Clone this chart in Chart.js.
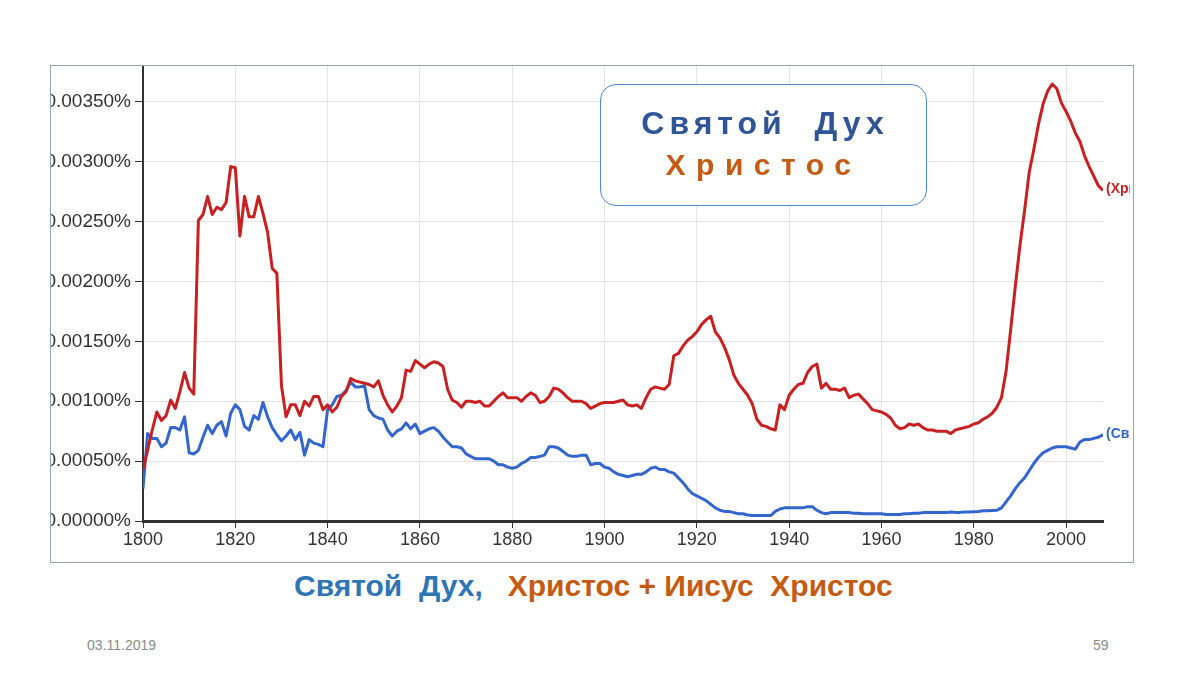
<!DOCTYPE html>
<html>
<head>
<meta charset="utf-8">
<script src="https://cdn.jsdelivr.net/npm/chart.js@4/dist/chart.umd.min.js"></script>
<style>
  html, body { margin: 0; padding: 0; background: #fff; }
  body { width: 1200px; height: 675px; position: relative; overflow: hidden; font-family: "Liberation Sans", Arial, sans-serif; }
  #frame { position: absolute; left: 50px; top: 65px; width: 1084px; height: 498px; box-sizing: border-box; border: 1px solid #9aa3ad; overflow: hidden; background: #fff; }
  #chart { position: absolute; left: -11px; top: 0; }
  #badge { position: absolute; left: 600px; top: 84px; width: 327px; height: 122px; box-sizing: border-box; border: 1.5px solid #4d8ad6; border-radius: 16px; background: #fff; text-align: center; font-weight: bold; white-space: pre; }
  #badge .l1 { position: absolute; left: 0; right: 0; top: 20px; font-size: 32px; letter-spacing: 5px; padding-left: 3px; color: #2f5597; }
  #badge .l2 { position: absolute; left: 0; right: 0; top: 63px; font-size: 30px; letter-spacing: 10.5px; padding-left: 0; color: #c55a11; }
  #caption { position: absolute; left: 294px; top: 569px; font-family: "Liberation Sans Narrow", "Liberation Sans", Arial, sans-serif; font-weight: bold; font-size: 30px; white-space: pre; }
  .foot { position: absolute; top: 637px; font-size: 14px; color: #8a8a8a; }
</style>
</head>
<body>
<div id="frame"><canvas id="chart" width="1090" height="495"></canvas></div>
<div id="badge"><div class="l1">Святой  Дух</div><div class="l2">Христос</div></div>
<div id="caption"><span style="color:#2e75b6">Святой  Дух,</span>   <span style="color:#c55a11">Христос + Иисус  Христос</span></div>
<div class="foot" style="left:87px">03.11.2019</div>
<div class="foot" style="left:1093px">59</div>

<script>
const firstYear = 1800;
const lastYear = 2008;

const xTicks = [1800, 1820, 1840, 1860, 1880, 1900, 1920, 1940, 1960, 1980, 2000];
const yTicks = [0, 0.0005, 0.001, 0.0015, 0.002, 0.0025, 0.003, 0.0035];

const seriesNames = ['Христос + Иисус Христос', 'Святой Дух'];
const endLabels = ['(Христос + Иисус Христос)', '(Святой Дух)'];

// one value per year, 1800..2008, in percent
const christValues = [
  0.00043, 0.00059, 0.00076, 0.00091, 0.00084, 0.00088, 0.00101, 0.00094, 0.00108, 0.00124,
  0.00111, 0.00106, 0.00251, 0.00256, 0.00271, 0.00256, 0.00262, 0.00260, 0.00266, 0.00296,
  0.00295, 0.00238, 0.00271, 0.00254, 0.00254, 0.00271, 0.00257, 0.00241, 0.00211, 0.00207,
  0.00113, 0.00087, 0.00097, 0.00097, 0.00088, 0.00100, 0.00096, 0.00104, 0.00104, 0.00093,
  0.00097, 0.00091, 0.00095, 0.00104, 0.00108, 0.00119, 0.00117, 0.00116, 0.00115, 0.00114,
  0.00112, 0.00117, 0.00105, 0.00097, 0.00091, 0.00096, 0.00103, 0.00126, 0.00125, 0.00134,
  0.00131, 0.00128, 0.00131, 0.00133, 0.00132, 0.00129, 0.00110, 0.00101, 0.00099, 0.00095,
  0.00100, 0.00100, 0.00099, 0.00100, 0.00096, 0.00096, 0.00100, 0.00104, 0.00107, 0.00103,
  0.00103, 0.00103, 0.00100, 0.00104, 0.00107, 0.00105, 0.00099, 0.00100, 0.00104, 0.00111,
  0.00110, 0.00107, 0.00103, 0.00100, 0.00100, 0.00100, 0.00098, 0.00094, 0.00096, 0.00098,
  0.00099, 0.00099, 0.00099, 0.00100, 0.00101, 0.00097, 0.00096, 0.00097, 0.00094, 0.00103,
  0.00110, 0.00112, 0.00111, 0.00110, 0.00114, 0.00138, 0.00140, 0.00146, 0.00151, 0.00154,
  0.00158, 0.00164, 0.00168, 0.00171, 0.00158, 0.00153, 0.00145, 0.00135, 0.00122, 0.00115,
  0.00110, 0.00105, 0.00098, 0.00085, 0.00080, 0.00079, 0.00077, 0.00076, 0.00097, 0.00093,
  0.00105, 0.00110, 0.00114, 0.00115, 0.00124, 0.00129, 0.00131, 0.00111, 0.00115, 0.00110,
  0.00110, 0.00109, 0.00111, 0.00103, 0.00105, 0.00106, 0.00102, 0.00098, 0.00093, 0.00092,
  0.00091, 0.00089, 0.00086, 0.00080, 0.00077, 0.00078, 0.00081, 0.00080, 0.00081, 0.00078,
  0.00076, 0.00076, 0.00075, 0.00075, 0.00075, 0.00073, 0.00076, 0.00077, 0.00078, 0.00079,
  0.00081, 0.00082, 0.00085, 0.00087, 0.00090, 0.00095, 0.00103, 0.00125, 0.00160, 0.00196,
  0.00230, 0.00259, 0.00291, 0.00310, 0.00331, 0.00348, 0.00359, 0.00365, 0.00361, 0.00349,
  0.00342, 0.00334, 0.00324, 0.00317, 0.00305, 0.00296, 0.00288, 0.00280, 0.00276
];

const spiritValues = [
  0.00027, 0.00073, 0.00069, 0.00069, 0.00062, 0.00065, 0.00078, 0.00078, 0.00076, 0.00087,
  0.00057, 0.00056, 0.00059, 0.00070, 0.00080, 0.00073, 0.00080, 0.00083, 0.00071, 0.00090,
  0.00097, 0.00093, 0.00079, 0.00076, 0.00088, 0.00085, 0.00099, 0.00087, 0.00078, 0.00072,
  0.00067, 0.00071, 0.00076, 0.00068, 0.00074, 0.00055, 0.00068, 0.00065, 0.00064, 0.00062,
  0.00093, 0.00097, 0.00104, 0.00105, 0.00109, 0.00116, 0.00112, 0.00112, 0.00113, 0.00093,
  0.00088, 0.00086, 0.00085, 0.00076, 0.00071, 0.00075, 0.00077, 0.00082, 0.00077, 0.00081,
  0.00073, 0.00075, 0.00077, 0.00078, 0.00075, 0.00070, 0.00066, 0.00062, 0.00062, 0.00061,
  0.00056, 0.00054, 0.00052, 0.00052, 0.00052, 0.00052, 0.00050, 0.00047, 0.00047, 0.00045,
  0.00044, 0.00045, 0.00048, 0.00050, 0.00053, 0.00053, 0.00054, 0.00055, 0.00062, 0.00062,
  0.00061, 0.00058, 0.00055, 0.00054, 0.00054, 0.00055, 0.00055, 0.00047, 0.00048, 0.00048,
  0.00045, 0.00044, 0.00041, 0.00039, 0.00038, 0.00037, 0.00038, 0.00039, 0.00039, 0.00041,
  0.00044, 0.00045, 0.00043, 0.00043, 0.00041, 0.00040, 0.00036, 0.00032, 0.00027, 0.00023,
  0.00021, 0.00019, 0.00017, 0.00014, 0.00011, 0.00009, 0.00008, 0.00008, 0.00007, 0.00006,
  0.00006, 0.00005, 0.000045, 0.000045, 0.000045, 0.000045, 0.000045, 0.00008, 0.00010, 0.00011,
  0.00011, 0.00011, 0.00011, 0.00011, 0.00012, 0.00012, 0.00009, 0.00007, 0.00006, 0.00007,
  0.00007, 0.00007, 0.00007, 0.00007, 0.000065, 0.000065, 0.00006, 0.00006, 0.00006, 0.00006,
  0.00006, 0.000055, 0.000055, 0.000055, 0.000055, 0.00006, 0.00006, 0.000065, 0.000065, 0.00007,
  0.00007, 0.00007, 0.00007, 0.00007, 0.00007, 0.000075, 0.000072, 0.000072, 0.000075, 0.000075,
  0.000078, 0.00008, 0.000085, 0.000085, 0.000088, 0.00009, 0.00011, 0.00016, 0.00021, 0.00027,
  0.00032, 0.00036, 0.00042, 0.00048, 0.00053, 0.00057, 0.00059, 0.00061, 0.00062, 0.00062,
  0.00062, 0.00061, 0.00060, 0.00066, 0.00068, 0.00068, 0.00069, 0.00070, 0.00072
];

const years = [];
for (let y = firstYear; y <= lastYear; y++) years.push(y);

const toPoints = vals => years.map((yr, i) => ({ x: yr, y: vals[i] }));

const fontFamily = '"Liberation Sans", Arial, sans-serif';

// series names written at the right end of each line
const endLabelPlugin = {
  id: 'endLabels',
  afterDatasetsDraw(chart) {
    const ctx = chart.ctx;
    chart.data.datasets.forEach((ds, i) => {
      const pts = chart.getDatasetMeta(i).data;
      const last = pts[pts.length - 1];
      ctx.save();
      ctx.font = 'bold 14px ' + fontFamily;
      ctx.fillStyle = ds.borderColor;
      ctx.textBaseline = 'middle';
      ctx.fillText(endLabels[i], last.x + 3, last.y - 1);
      ctx.restore();
    });
  }
};

const noPad = s => { s.paddingTop = 0; s.paddingBottom = 0; s.paddingLeft = 0; s.paddingRight = 0; };

new Chart(document.getElementById('chart'), {
  type: 'line',
  data: {
    datasets: [
      {
        label: seriesNames[0],
        data: toPoints(christValues),
        borderColor: '#c82020',
        borderWidth: 3
      },
      {
        label: seriesNames[1],
        data: toPoints(spiritValues),
        borderColor: '#3366cc',
        borderWidth: 3
      }
    ]
  },
  options: {
    responsive: false,
    animation: false,
    layout: { padding: { top: 0, right: 27, left: 0, bottom: 0 } },
    elements: {
      point: { radius: 0 },
      line: { tension: 0, borderJoinStyle: 'round' }
    },
    plugins: {
      legend: { display: false },
      tooltip: { enabled: false }
    },
    scales: {
      x: {
        type: 'linear',
        min: firstYear,
        max: lastYear,
        afterBuildTicks: s => { s.ticks = xTicks.map(v => ({ value: v })); },
        afterFit: s => { s.height = 40; noPad(s); },
        ticks: {
          autoSkip: false,
          maxRotation: 0,
          padding: 1,
          color: '#333',
          font: { size: 18, family: fontFamily },
          callback: v => String(v)
        },
        grid: { color: '#e4e4e4', tickColor: '#333', tickLength: 7 },
        border: { color: '#333', width: 3 }
      },
      y: {
        min: 0,
        max: 0.0038,
        afterBuildTicks: s => { s.ticks = yTicks.map(v => ({ value: v })); },
        afterFit: s => { s.width = 103; noPad(s); },
        ticks: {
          padding: 4,
          color: '#333',
          font: { size: 19, family: fontFamily },
          callback: v => v.toFixed(5) + '%'
        },
        grid: { color: '#e4e4e4', tickColor: '#333', tickLength: 8 },
        border: { color: '#333', width: 2 }
      }
    }
  },
  plugins: [endLabelPlugin]
});
</script>
</body>
</html>
